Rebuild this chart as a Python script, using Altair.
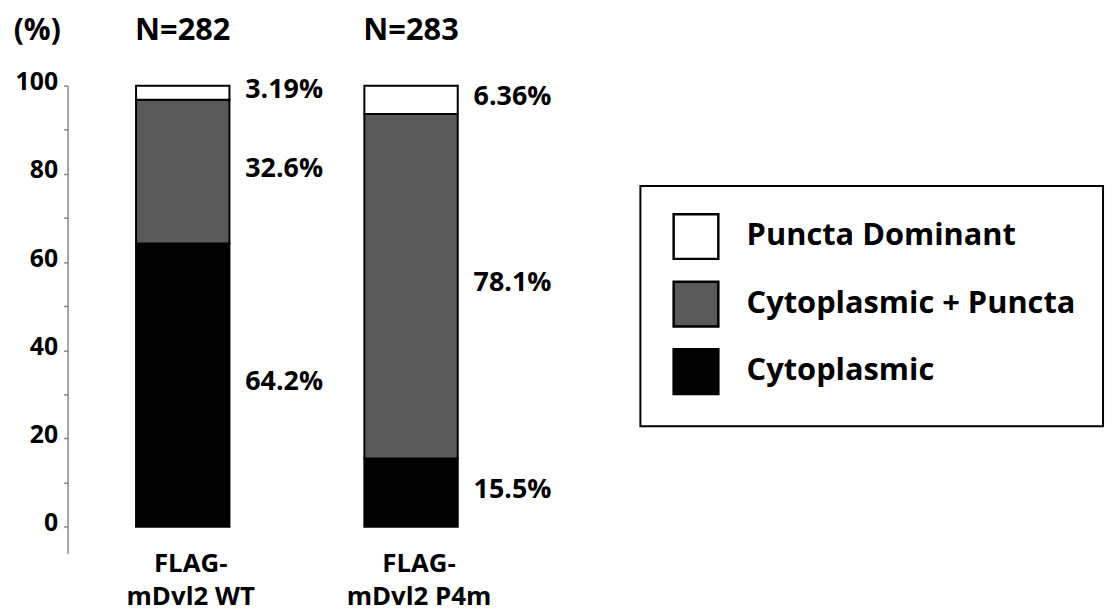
import altair as alt
import pandas as pd

# ---- data ----
constructs = ["FLAG-mDvl2 WT", "FLAG-mDvl2 P4m"]
n_cells = ["N=282", "N=283"]
categories = ["Puncta Dominant", "Cytoplasmic + Puncta", "Cytoplasmic"]
colors = ["#ffffff", "#595959", "#000000"]
stack_rank = [2, 1, 0]  # 0 = bottom of the stack
wt_values = [3.19, 32.6, 64.2]
p4m_values = [6.36, 78.1, 15.5]
wt_labels = ["3.19%", "32.6%", "64.2%"]
p4m_labels = ["6.36%", "78.1%", "15.5%"]
y_tick_values = [0, 10, 20, 30, 40, 50, 60, 70, 80, 90, 100]

FONT = "Open Sans"
NBSP = "\u00a0"

rows = []
for construct, vals, labs in [(constructs[0], wt_values, wt_labels),
                              (constructs[1], p4m_values, p4m_labels)]:
    order = sorted(range(len(categories)), key=lambda i: stack_rank[i])
    base = 0.0
    for i in order:
        rows.append({
            "construct": construct,
            "category": categories[i],
            "value": vals[i],
            "label": labs[i],
            "rank": stack_rank[i],
            "mid": base + vals[i] / 2.0,
        })
        base += vals[i]
df = pd.DataFrame(rows)
ndf = pd.DataFrame({"construct": constructs, "n": n_cells})

x_enc = alt.X(
    "construct:N",
    sort=constructs,
    scale=alt.Scale(paddingInner=0.591, paddingOuter=0.3),
    axis=alt.Axis(
        title=None, domain=False, ticks=False, labelAngle=0,
        labelExpr="[slice(datum.label, 0, 5), slice(datum.label, 5)]",
        labelFont=FONT, labelFontSize=26, labelFontWeight="bold",
        labelColor="black", labelLineHeight=34, labelPadding=-3,
        labelOffset=8,
    ),
)

y_scale = alt.Scale(domain=[-6, 100], nice=False, zero=False)

bars = alt.Chart(df).mark_bar(stroke="black", strokeWidth=2).encode(
    x=x_enc,
    y=alt.Y(
        "value:Q", stack="zero", scale=y_scale,
        axis=alt.Axis(
            title="(%)", values=y_tick_values, grid=False,
            labelExpr="datum.value % 20 == 0 ? datum.label : ''",
            domainColor="#868686", domainWidth=1.5,
            tickColor="#868686", tickWidth=1.5, tickSize=4,
            labelFont=FONT, labelFontSize=25, labelFontWeight="bold",
            labelColor="black", labelPadding=6, labelOffset=-4,
            titleAngle=0, titleX=-31, titleY=-55, titleAlign="center",
            titleBaseline="middle", titleFont=FONT, titleFontSize=30,
            titleFontWeight="bold", titleColor="black",
        ),
    ),
    fill=alt.Fill(
        "category:N",
        scale=alt.Scale(domain=categories, range=colors),
        legend=alt.Legend(
            title=None, orient="none", legendX=577, legendY=101,
            direction="vertical", symbolType="square", symbolSize=2025,
            symbolStrokeColor="black", symbolStrokeWidth=2.5,
            symbolOpacity=1, symbolOffset=5,
            labelFont=FONT, labelFontSize=31, labelFontWeight="bold",
            labelColor="black", labelOffset=27, labelLimit=700,
            labelExpr="datum.label + '" + NBSP * 4 + "'",
            rowPadding=12, padding=27, strokeColor="black",
            fillColor="white",
        ),
    ),
    order=alt.Order("rank:Q"),
)

pct = alt.Chart(df).mark_text(
    align="left", baseline="middle", dx=63, dy=-3,
    font=FONT, fontSize=27, fontWeight="bold", color="black",
).encode(
    x=alt.X("construct:N", sort=constructs),
    y=alt.Y("mid:Q", scale=y_scale),
    text="label:N",
)

ntext = alt.Chart(ndf).mark_text(
    align="center", baseline="middle",
    font=FONT, fontSize=31, fontWeight="bold", color="black",
).encode(
    x=alt.X("construct:N", sort=constructs),
    y=alt.value(-55),
    text="n:N",
)

chart = alt.layer(bars, pct, ntext).properties(
    width=462, height=471,
    autosize=alt.AutoSizeParams(type="none"),
    padding={"left": 60, "top": 76, "right": 585, "bottom": 58},
).configure_view(stroke=None).configure_legend(strokeWidth=2)

chart.save("out.html", embed_options={"renderer": "svg", "actions": False})
